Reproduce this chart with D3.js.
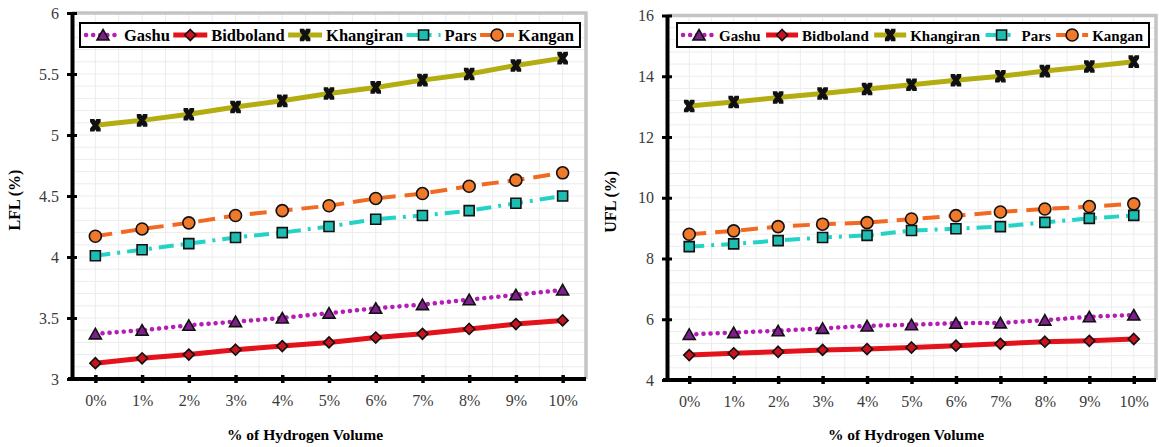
<!DOCTYPE html>
<html>
<head>
<meta charset="utf-8">
<script src="https://cdn.jsdelivr.net/npm/d3@7"></script>
<style>
  body { margin: 0; background: #fff; }
  svg { display: block; }
</style>
</head>
<body>
<svg id="chart" width="1159" height="447"></svg>
<script>
// categories on the x axis
var categories = ['0%', '1%', '2%', '3%', '4%', '5%', '6%', '7%', '8%', '9%', '10%'];
var seriesNames = ['Gashu', 'Bidboland', 'Khangiran', 'Pars', 'Kangan'];

// LFL (%) values, left panel
var lflGashu = [3.37, 3.40, 3.44, 3.47, 3.50, 3.54, 3.58, 3.61, 3.65, 3.69, 3.73];
var lflBidboland = [3.13, 3.17, 3.20, 3.24, 3.27, 3.30, 3.34, 3.37, 3.41, 3.45, 3.48];
var lflKhangiran = [5.08, 5.12, 5.17, 5.23, 5.28, 5.34, 5.39, 5.45, 5.50, 5.57, 5.63];
var lflPars = [4.01, 4.06, 4.11, 4.16, 4.20, 4.25, 4.31, 4.34, 4.38, 4.44, 4.50];
var lflKangan = [4.17, 4.23, 4.28, 4.34, 4.38, 4.42, 4.48, 4.52, 4.58, 4.63, 4.69];

// UFL (%) values, right panel
var uflGashu = [5.50, 5.56, 5.62, 5.70, 5.78, 5.82, 5.87, 5.88, 5.97, 6.08, 6.14];
var uflBidboland = [4.82, 4.88, 4.93, 4.99, 5.02, 5.07, 5.13, 5.19, 5.26, 5.29, 5.35];
var uflKhangiran = [13.02, 13.15, 13.30, 13.43, 13.58, 13.72, 13.87, 14.00, 14.17, 14.32, 14.48];
var uflPars = [8.39, 8.48, 8.59, 8.69, 8.76, 8.92, 8.98, 9.05, 9.19, 9.32, 9.42];
var uflKangan = [8.80, 8.91, 9.05, 9.13, 9.18, 9.30, 9.41, 9.53, 9.63, 9.71, 9.80];

// y tick labels
var lflTicks = [3, 3.5, 4, 4.5, 5, 5.5, 6];
var uflTicks = [4, 6, 8, 10, 12, 14, 16];

var FONT = '"Liberation Serif", "Times New Roman", serif';

// marker shapes, centred on 0,0
var markers = {
    triangle: 'M0,-5.5L6,5L-6,5Z',
    diamond: 'M0,-5.5L5.5,0L0,5.5L-5.5,0Z',
    hourglass: 'M-4.5,-5.5L-1.5,-5.5L0,-2.5L1.5,-5.5L4.5,-5.5L4.5,-3.5L1.8,0L4.5,3.5L4.5,5.5L1.5,5.5L0,2.5L-1.5,5.5L-4.5,5.5L-4.5,3.5L-1.8,0L-4.5,-3.5Z',
    square: 'M-5,-5L5,-5L5,5L-5,5Z',
    circle: 'M6,0A6,6 0 1,1 -6,0A6,6 0 1,1 6,0Z'
};

var styles = {
    Gashu: {line: '#b51db5', width: 4.5, dash: '0.1,7', cap: 'round', marker: 'triangle', fill: '#7d1f8c', stroke: '#111'},
    Bidboland: {line: '#e3121b', width: 5, dash: null, cap: 'butt', marker: 'diamond', fill: '#c8141e', stroke: '#111'},
    Khangiran: {line: '#b3ad12', width: 5, dash: null, cap: 'butt', marker: 'hourglass', fill: '#111', stroke: '#111'},
    Pars: {line: '#25d2c6', width: 4, dash: '15,7,3,7', cap: 'butt', marker: 'square', fill: '#1dbdb2', stroke: '#111'},
    Kangan: {line: '#f26a21', width: 4, dash: '17,9', cap: 'butt', marker: 'circle', fill: '#f07a2a', stroke: '#111'}
};

var svg = d3.select('#chart');

function drawPanel(p) {
    var g = svg.append('g');

    var x = d3.scalePoint().domain(categories).range([p.left, p.right]).padding(0.5);
    var y = d3.scaleLinear().domain(p.domain).range([p.bottom, p.top]);
    var step = x.step();

    // light grid, every half category and every fifth of a major tick
    var grid = g.append('g');
    var vx = d3.range(0, categories.length * 2 + 1).map(function (i) { return p.left + i * step / 2; });
    grid.selectAll('line.v').data(vx).enter().append('line')
        .attr('x1', function (d) { return d; })
        .attr('x2', function (d) { return d; })
        .attr('y1', p.top).attr('y2', p.bottom)
        .attr('stroke', '#ececec').attr('stroke-width', 1);
    var minor = p.minor;
    var hy = d3.range(p.domain[0], p.domain[1] + minor / 2, minor);
    grid.selectAll('line.h').data(hy).enter().append('line')
        .attr('x1', p.left).attr('x2', p.right)
        .attr('y1', function (d) { return y(d); })
        .attr('y2', function (d) { return y(d); })
        .attr('stroke', '#ececec').attr('stroke-width', 1);

    // grey frame top and right
    g.append('path')
        .attr('d', 'M' + p.left + ',' + p.top + 'H' + p.right + 'V' + p.bottom)
        .attr('fill', 'none').attr('stroke', '#c4c4c4').attr('stroke-width', 3.5);

    // series
    p.series.forEach(function (vals, i) {
        var name = seriesNames[i];
        var st = styles[name];
        var line = d3.line()
            .x(function (d, j) { return x(categories[j]); })
            .y(function (d) { return y(d); });
        g.append('path')
            .datum(vals)
            .attr('d', line)
            .attr('fill', 'none')
            .attr('stroke', st.line)
            .attr('stroke-width', st.width)
            .attr('stroke-linecap', st.cap)
            .attr('stroke-dasharray', st.dash);
        g.selectAll('path.m' + i).data(vals).enter().append('path')
            .attr('class', 'm' + i)
            .attr('d', markers[st.marker])
            .attr('transform', function (d, j) { return 'translate(' + x(categories[j]) + ',' + y(d) + ')'; })
            .attr('fill', st.fill)
            .attr('stroke', st.stroke)
            .attr('stroke-width', 1.6);
    });

    // y axis
    var yAxis = d3.axisLeft(y).tickValues(p.ticks).tickSizeInner(5).tickSizeOuter(0).tickPadding(8)
        .tickFormat(d3.format(''));
    var ya = g.append('g').attr('transform', 'translate(' + p.left + ',0)').call(yAxis);
    ya.select('.domain').attr('stroke', '#000').attr('stroke-width', 4);
    ya.selectAll('.tick line').attr('x1', -5).attr('x2', 5).attr('stroke', '#000').attr('stroke-width', 3);
    ya.selectAll('.tick text').attr('font-family', FONT).attr('font-size', 16).attr('fill', '#3a3a3a');

    // x axis
    var xAxis = d3.axisBottom(x).tickSizeInner(4).tickSizeOuter(0).tickPadding(12);
    var xa = g.append('g').attr('transform', 'translate(0,' + p.bottom + ')').call(xAxis);
    xa.select('.domain').attr('d', 'M' + (p.left - 4) + ',0H' + p.right)
        .attr('stroke', '#000').attr('stroke-width', 4);
    xa.selectAll('.tick line').attr('y1', -4).attr('y2', 4).attr('stroke', '#000').attr('stroke-width', 3.5);
    xa.selectAll('.tick text').attr('font-family', FONT).attr('font-size', 16).attr('fill', '#3a3a3a');

    // axis titles
    g.append('text')
        .attr('transform', 'translate(' + p.yTitleX + ',' + ((p.top + p.bottom) / 2 + 4) + ') rotate(-90)')
        .attr('text-anchor', 'middle')
        .attr('font-family', FONT).attr('font-weight', 'bold').attr('font-size', 16)
        .text(p.yTitle);
    g.append('text')
        .attr('x', p.xTitleX).attr('y', 440)
        .attr('text-anchor', 'middle')
        .attr('font-family', FONT).attr('font-weight', 'bold').attr('font-size', 15.5)
        .text('% of Hydrogen Volume');

    // legend
    var lg = g.append('g');
    lg.append('rect')
        .attr('x', p.legX).attr('y', p.legY)
        .attr('width', p.legW).attr('height', 24)
        .attr('fill', '#fff').attr('stroke', '#000').attr('stroke-width', 2);
    var items = seriesNames.map(function (name) {
        var it = lg.append('g');
        var st = styles[name];
        var sw = p.legSample;
        it.append('line')
            .attr('x1', 0).attr('x2', sw).attr('y1', 0).attr('y2', 0)
            .attr('stroke', st.line).attr('stroke-width', st.width)
            .attr('stroke-linecap', st.cap).attr('stroke-dasharray', st.dash);
        it.append('path')
            .attr('d', markers[st.marker])
            .attr('transform', 'translate(' + sw / 2 + ',0)')
            .attr('fill', st.fill).attr('stroke', st.stroke).attr('stroke-width', 1.6);
        var t = it.append('text')
            .attr('x', sw + 4).attr('y', 5.5)
            .attr('font-family', FONT).attr('font-weight', 'bold').attr('font-size', p.legFont)
            .text(name);
        return {g: it, w: sw + 4 + t.node().getComputedTextLength()};
    });
    var total = d3.sum(items, function (d) { return d.w; });
    var gap = (p.legW - 12 - total) / (items.length - 1);
    var cx = p.legX + 6;
    items.forEach(function (it) {
        it.g.attr('transform', 'translate(' + cx + ',' + (p.legY + 12) + ')');
        cx += it.w + gap;
    });
}

drawPanel({
    left: 72, right: 586, top: 13, bottom: 379,
    domain: [3, 6], ticks: lflTicks, minor: 0.1,
    series: [lflGashu, lflBidboland, lflKhangiran, lflPars, lflKangan],
    yTitle: 'LFL (%)', yTitleX: 20, xTitleX: 305,
    legX: 80, legY: 23, legW: 500, legFont: 16.5, legSample: 34
});

drawPanel({
    left: 667, right: 1156, top: 15.5, bottom: 380,
    domain: [4, 16], ticks: uflTicks, minor: 0.4,
    series: [uflGashu, uflBidboland, uflKhangiran, uflPars, uflKangan],
    yTitle: 'UFL (%)', yTitleX: 616, xTitleX: 906,
    legX: 677, legY: 23, legW: 472, legFont: 15, legSample: 32
});
</script>
</body>
</html>
